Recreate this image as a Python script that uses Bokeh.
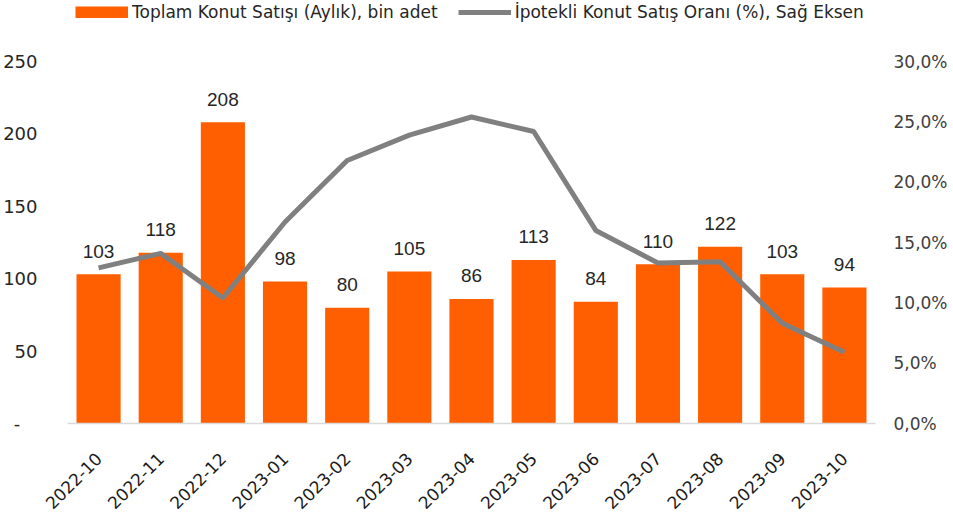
from bokeh.plotting import figure
from bokeh.models import (ColumnDataSource, Range1d, LinearAxis, FixedTicker,
                          Legend, LegendItem, FactorRange)
from bokeh.core.properties import value
from bokeh.embed import file_html
from bokeh.resources import INLINE
import math

months = ["2022-10", "2022-11", "2022-12", "2023-01", "2023-02", "2023-03", "2023-04",
          "2023-05", "2023-06", "2023-07", "2023-08", "2023-09", "2023-10"]
total_sales = [103, 118, 208, 98, 80, 105, 86, 113, 84, 110, 122, 103, 94]
mortgage_share = [12.9, 14.1, 10.4, 16.7, 21.8, 23.9, 25.4, 24.2, 16.0, 13.3, 13.4, 8.3, 5.9]
left_ticks = [0, 50, 100, 150, 200, 250]
right_ticks = [0, 5, 10, 15, 20, 25, 30]
bar_name = "Toplam Konut Satışı (Aylık), bin adet"
line_name = "İpotekli Konut Satış Oranı (%), Sağ Eksen"

ORANGE = "#FF5F00"
GREY = "#808080"
TICK_FONT = "DejaVu Sans"

# layout: the axes span 362px; the frame is taller so the legend can sit inside it
AXIS_PX = 362
FRAME_H = 423
left_end = left_ticks[-1] * FRAME_H / AXIS_PX
right_end = right_ticks[-1] * FRAME_H / AXIS_PX

src = ColumnDataSource(dict(x=months, y=total_sales, pct=mortgage_share,
                            label=[str(v) for v in total_sales]))

p = figure(x_range=FactorRange(*months), y_range=Range1d(0, left_end), title=None,
           frame_width=808, frame_height=FRAME_H,
           min_border_left=64, min_border_right=65, min_border_top=0, min_border_bottom=74,
           output_backend="svg", toolbar_location=None)
p.extra_y_ranges = {"pct": Range1d(0, right_end)}
p.outline_line_color = None
p.xgrid.visible = False
p.ygrid.visible = False
p.background_fill_color = "white"
p.border_fill_color = "white"

p.vbar(x="x", top="y", width=0.71, source=src, fill_color=ORANGE, line_color=None)
line = p.line(x="x", y="pct", source=src, y_range_name="pct", line_color=GREY, line_width=5)
p.text(x="x", y="y", text="label", source=src, text_align="center", text_baseline="middle",
       y_offset=-23, text_font=value("Liberation Sans"), text_font_size="19px",
       text_color="#262626")
# legend swatch for the bars: a single-point line draws nothing on the chart itself
swatch = p.line(x=months[:1], y=[0], line_color=ORANGE, line_width=12)

# left axis
ya = p.yaxis[0]
ya.ticker = FixedTicker(ticks=left_ticks)
ya.major_label_overrides = {0: "-\u00a0\u00a0\u00a0"}
ya.axis_line_color = None
ya.major_tick_line_color = None
ya.minor_tick_line_color = None
ya.major_label_standoff = 24
ya.major_label_text_font = TICK_FONT
ya.major_label_text_font_size = "18px"
ya.major_label_text_color = "#262626"

# right axis
ra = LinearAxis(y_range_name="pct", ticker=FixedTicker(ticks=right_ticks))
ra.major_label_overrides = {t: f"{t:.1f}".replace(".", ",") + "%" for t in right_ticks}
ra.axis_line_color = None
ra.major_tick_line_color = None
ra.minor_tick_line_color = None
ra.major_label_standoff = 12
ra.major_label_text_font = TICK_FONT
ra.major_label_text_font_size = "17px"
ra.major_label_text_color = "#404040"
p.add_layout(ra, "right")

# bottom axis
xa = p.xaxis[0]
xa.axis_line_color = "#d9d9d9"
xa.axis_line_width = 1.5
xa.major_tick_line_color = None
xa.minor_tick_line_color = None
xa.major_label_orientation = math.pi / 4
xa.major_label_standoff = 26
xa.major_label_text_font = TICK_FONT
xa.major_label_text_font_size = "17px"
xa.major_label_text_color = "#1a1a1a"

legend = Legend(items=[LegendItem(label=bar_name, renderers=[swatch]),
                       LegendItem(label=line_name, renderers=[line])],
                orientation="horizontal", location=(8, 401),
                label_text_font=TICK_FONT, label_text_font_size="17px",
                label_text_color="#262626", glyph_width=53, glyph_height=12,
                label_height=20, label_standoff=4, spacing=20, padding=0, margin=0,
                border_line_color=None, background_fill_alpha=0)
p.add_layout(legend)

open("out.html", "w").write(file_html(p, INLINE))
